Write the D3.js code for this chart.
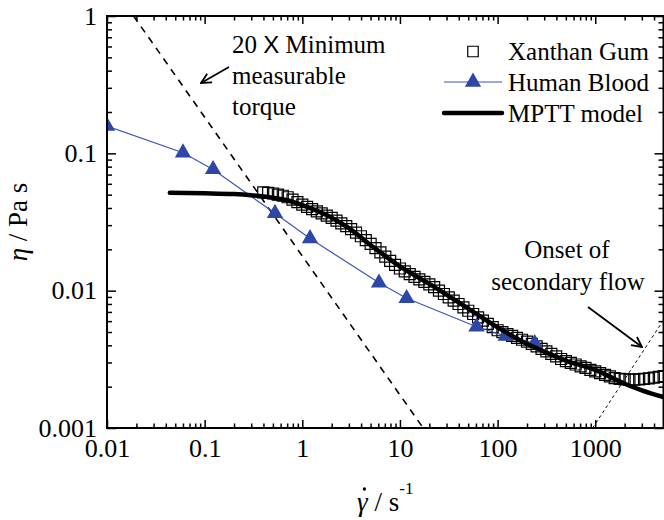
<!DOCTYPE html>
<html>
<head>
<meta charset="utf-8">
<script src="https://cdn.jsdelivr.net/npm/d3@7"></script>
<style>
  body { margin: 0; background: #fff; }
  svg { display: block; font-family: "Liberation Serif", "Times New Roman", serif; }
</style>
</head>
<body>
<svg id="chart" width="664" height="520"></svg>
<script>
// Viscosity vs shear rate -- xanthan gum, human blood, MPTT fit

var xanthanRate = [0.398, 0.447, 0.501, 0.562, 0.631, 0.708, 0.794, 0.891, 1,
  1.12, 1.26, 1.41, 1.58, 1.78, 2.0, 2.24, 2.51, 2.82, 3.16, 3.55, 3.98, 4.47, 5.01, 5.62, 6.31, 7.08, 7.94, 8.91, 10,
  11.2, 12.6, 14.1, 15.8, 17.8, 20.0, 22.4, 25.1, 28.2, 31.6, 35.5, 39.8, 44.7, 50.1, 56.2, 63.1, 70.8, 79.4, 89.1, 100,
  112, 126, 141, 158, 178, 200, 224, 251, 282, 316, 355, 398, 447, 501, 562, 631, 708, 794, 891, 1000,
  1120, 1260, 1410, 1580, 1780, 2000, 2240, 2510, 2820, 3160, 3550, 3980, 4470, 5010];
var xanthanEta = [0.0519, 0.0515, 0.0510, 0.0501, 0.0491, 0.0479, 0.0460, 0.0442, 0.0423,
  0.0407, 0.0393, 0.0378, 0.0365, 0.0352, 0.0339, 0.0324, 0.0309, 0.0295, 0.0281, 0.0265, 0.0249, 0.0233, 0.0219, 0.0204, 0.0190, 0.0177, 0.0165, 0.0154, 0.0145,
  0.0138, 0.0132, 0.0126, 0.0121, 0.0116, 0.0111, 0.0106, 0.0100, 0.00946, 0.00895, 0.00845, 0.00800, 0.00755, 0.00714, 0.00676, 0.00640, 0.00605, 0.00573, 0.00542, 0.00515,
  0.00499, 0.00483, 0.00468, 0.00453, 0.00439, 0.00425, 0.00410, 0.00393, 0.00377, 0.00361, 0.00347, 0.00332, 0.00318, 0.00307, 0.00298, 0.00290, 0.00281, 0.00274, 0.00265, 0.00258,
  0.00251, 0.00244, 0.00238, 0.00231, 0.00228, 0.00226, 0.00225, 0.00225, 0.00226, 0.00228, 0.00230, 0.00233, 0.00236, 0.00239];

var bloodRate = [0.01, 0.06, 0.122, 0.525, 1.2, 6.1, 11.7, 60.8, 121, 240];
var bloodEta = [0.158, 0.101, 0.0764, 0.0366, 0.024, 0.0114, 0.0088, 0.00546, 0.00467, 0.00413];

var mpttRate = [0.044, 0.1, 0.2, 0.3, 0.5, 0.7, 1, 2, 3, 5, 10, 20, 50, 100, 200, 300, 500, 1000, 2000, 3000, 5000];
var mpttEta = [0.0516, 0.0512, 0.0505, 0.0495, 0.0475, 0.0455, 0.042, 0.034, 0.0285, 0.0215, 0.0150, 0.0112, 0.0074, 0.0054, 0.0041, 0.0036, 0.0031, 0.00265, 0.0021, 0.00188, 0.00168];

// guide lines: [rate, eta] end points
var torqueLimit = [[0.0187, 1], [17.3, 0.001]];
var secondaryFlow = [[940, 0.001], [5000, 0.0061]];

var xTicks = [0.01, 0.1, 1, 10, 100, 1000];
var xTickLabels = ["0.01", "0.1", "1", "10", "100", "1000"];
var yTicks = [0.001, 0.01, 0.1, 1];
var yTickLabels = ["0.001", "0.01", "0.1", "1"];

// plot box (note: "top" is taken by window.top, so use other names)
var pL = 107, pR = 663.5, pT = 16, pB = 428;

var svg = d3.select("#chart");

var x = d3.scaleLog().domain([0.01, 5000]).range([pL, pR]);
var y = d3.scaleLog().domain([0.001, 1]).range([pB, pT]);

svg.append("clipPath").attr("id", "plot")
  .append("rect").attr("x", pL).attr("y", pT)
  .attr("width", pR - pL).attr("height", pB - pT);

var plot = svg.append("g").attr("clip-path", "url(#plot)");

///////////////////////////////////////////////////////////////////////////////
// Axes (ticks on all four sides, pointing in)

var xMinor = x.ticks().filter(function (d) { return xTicks.indexOf(d) < 0; });
var yMinor = y.ticks().filter(function (d) { return yTicks.indexOf(d) < 0; });

var styleAxis = function (g) {
  g.select(".domain").remove();
  g.selectAll("line").attr("stroke", "#000").attr("stroke-width", 1.5);
  g.selectAll("text").attr("font-family", "Liberation Serif").attr("font-size", 26).attr("fill", "#000");
};

svg.append("g").attr("transform", "translate(0," + pB + ")")
  .call(d3.axisBottom(x).tickValues(xMinor).tickSize(-4.5).tickFormat(""))
  .call(styleAxis);
svg.append("g").attr("transform", "translate(0," + pB + ")")
  .call(d3.axisBottom(x).tickValues(xTicks).tickSize(-8).tickPadding(11)
    .tickFormat(function (d, i) { return xTickLabels[i]; }))
  .call(styleAxis);

svg.append("g").attr("transform", "translate(0," + pT + ")")
  .call(d3.axisTop(x).tickValues(xMinor).tickSize(-4.5).tickFormat(""))
  .call(styleAxis);
svg.append("g").attr("transform", "translate(0," + pT + ")")
  .call(d3.axisTop(x).tickValues(xTicks).tickSize(-8).tickFormat(""))
  .call(styleAxis);

svg.append("g").attr("transform", "translate(" + pL + ",0)")
  .call(d3.axisLeft(y).tickValues(yMinor).tickSize(-5).tickFormat(""))
  .call(styleAxis);
svg.append("g").attr("transform", "translate(" + pL + ",0)")
  .call(d3.axisLeft(y).tickValues(yTicks).tickSize(-9).tickPadding(10)
    .tickFormat(function (d, i) { return yTickLabels[i]; }))
  .call(styleAxis);

svg.append("g").attr("transform", "translate(" + pR + ",0)")
  .call(d3.axisRight(y).tickValues(yMinor).tickSize(-5).tickFormat(""))
  .call(styleAxis);
svg.append("g").attr("transform", "translate(" + pR + ",0)")
  .call(d3.axisRight(y).tickValues(yTicks).tickSize(-9).tickFormat(""))
  .call(styleAxis);

svg.append("rect")
  .attr("x", pL).attr("y", pT)
  .attr("width", pR - pL).attr("height", pB - pT)
  .attr("fill", "none").attr("stroke", "#000").attr("stroke-width", 2);

///////////////////////////////////////////////////////////////////////////////
// Guide lines

var guide = d3.line()
  .x(function (d) { return x(d[0]); })
  .y(function (d) { return y(d[1]); });

plot.append("path").attr("d", guide(torqueLimit))
  .attr("fill", "none").attr("stroke", "#000")
  .attr("stroke-width", 1.6).attr("stroke-dasharray", "7,6");

plot.append("path").attr("d", guide(secondaryFlow))
  .attr("fill", "none").attr("stroke", "#000")
  .attr("stroke-width", 1).attr("stroke-dasharray", "3,3");

///////////////////////////////////////////////////////////////////////////////
// Data

var xanthan = xanthanRate.map(function (r, i) { return [r, xanthanEta[i]]; });
var blood = bloodRate.map(function (r, i) { return [r, bloodEta[i]]; });
var mptt = mpttRate.map(function (r, i) { return [r, mpttEta[i]]; });

var square = d3.symbol().type(d3.symbolSquare).size(121);
var triangle = d3.symbol().type(d3.symbolTriangle).size(115);

plot.append("g").selectAll("path")
  .data(xanthan)
  .enter().append("path")
  .attr("d", square)
  .attr("transform", function (d) { return "translate(" + x(d[0]) + "," + y(d[1]) + ")"; })
  .attr("fill", "none").attr("stroke", "#000").attr("stroke-width", 1.2);

plot.append("path").attr("d", guide(blood))
  .attr("fill", "none").attr("stroke", "#3b57b8").attr("stroke-width", 1.2);

plot.append("g").selectAll("path")
  .data(blood)
  .enter().append("path")
  .attr("d", triangle)
  .attr("transform", function (d) { return "translate(" + x(d[0]) + "," + y(d[1]) + ")"; })
  .attr("fill", "#2e47a6");

plot.append("path").attr("d", guide.curve(d3.curveMonotoneX)(mptt))
  .attr("fill", "none").attr("stroke", "#000").attr("stroke-width", 4.5)
  .attr("stroke-linecap", "round");

///////////////////////////////////////////////////////////////////////////////
// Legend

var legend = svg.append("g").attr("font-size", 25);
legend.append("path").attr("d", d3.symbol().type(d3.symbolSquare).size(110))
  .attr("transform", "translate(473,51.5)")
  .attr("fill", "none").attr("stroke", "#000").attr("stroke-width", 1.2);
legend.append("line").attr("x1", 444).attr("x2", 502).attr("y1", 82).attr("y2", 82)
  .attr("stroke", "#3b57b8").attr("stroke-width", 1.2);
legend.append("path").attr("d", triangle)
  .attr("transform", "translate(473,82)").attr("fill", "#2e47a6");
legend.append("line").attr("x1", 444).attr("x2", 502).attr("y1", 113).attr("y2", 113)
  .attr("stroke", "#000").attr("stroke-width", 4.5).attr("stroke-linecap", "round");

["Xanthan Gum", "Human Blood", "MPTT model"].forEach(function (t, i) {
  legend.append("text").attr("x", 508).attr("y", 60 + i * 31).text(t);
});

///////////////////////////////////////////////////////////////////////////////
// Annotations

var defs = svg.append("defs");
defs.append("marker").attr("id", "arrow")
  .attr("viewBox", "0 0 12 12").attr("refX", 11).attr("refY", 6)
  .attr("markerWidth", 12).attr("markerHeight", 12)
  .attr("markerUnits", "userSpaceOnUse").attr("orient", "auto")
  .append("path").attr("d", "M1,1 L11,6 L1,11")
  .attr("fill", "none").attr("stroke", "#000").attr("stroke-width", 1.8);

var note = svg.append("g").attr("font-size", 25);
var t1 = note.append("text").attr("x", 232).attr("y", 53);
t1.append("tspan").text("20 ");
t1.append("tspan").attr("font-family", "Liberation Sans").attr("font-size", 24).text("X");
t1.append("tspan").text(" Minimum");
note.append("text").attr("x", 232).attr("y", 84).text("measurable");
note.append("text").attr("x", 232).attr("y", 115).text("torque");
note.append("line").attr("x1", 229).attr("y1", 67).attr("x2", 201).attr("y2", 83)
  .attr("stroke", "#000").attr("stroke-width", 1.8).attr("marker-end", "url(#arrow)");

note.append("text").attr("x", 567).attr("y", 258).attr("text-anchor", "middle").text("Onset of");
note.append("text").attr("x", 568).attr("y", 290).attr("text-anchor", "middle").text("secondary flow");
note.append("line").attr("x1", 588).attr("y1", 307).attr("x2", 642).attr("y2", 347)
  .attr("stroke", "#000").attr("stroke-width", 1.8).attr("marker-end", "url(#arrow)");

///////////////////////////////////////////////////////////////////////////////
// Axis titles

var ylab = svg.append("text")
  .attr("transform", "translate(27," + ((pT + pB) / 2) + ") rotate(-90)")
  .attr("text-anchor", "middle").attr("font-size", 27);
ylab.append("tspan").attr("font-style", "italic").text("η");
ylab.append("tspan").text(" / Pa s");

var xlab = svg.append("text")
  .attr("x", (pL + pR) / 2).attr("y", 511)
  .attr("text-anchor", "middle").attr("font-size", 27);
var gam = xlab.append("tspan").attr("font-style", "italic").text("γ");
xlab.append("tspan").text(" / s");
xlab.append("tspan").attr("font-size", 17).attr("dy", -17).text("-1");

// dot over gamma (combining dot renders off-centre)
var gBox = gam.node().getExtentOfChar(0);
svg.append("circle")
  .attr("cx", gBox.x + gBox.width / 2 + 2).attr("cy", 511 - 22)
  .attr("r", 1.7).attr("fill", "#000");
</script>
</body>
</html>
